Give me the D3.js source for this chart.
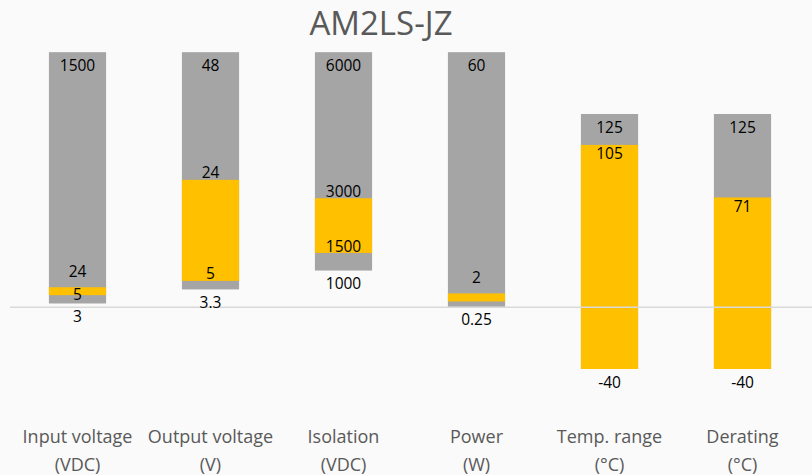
<!DOCTYPE html>
<html>
<head>
<meta charset="utf-8">
<script src="https://cdn.jsdelivr.net/npm/d3@7"></script>
<style>
	html, body { margin: 0; padding: 0; background: #fafafa; }
	svg { display: block; font-family: "Open Sans", "Noto Sans", sans-serif; }
</style>
</head>
<body>
<div id="chart"></div>
<script>
/**
 * AM2LS-JZ spec ranges, one bar per spec.
 */

// Category names and units (second line)
const categories = ["Input voltage", "Output voltage", "Isolation", "Power", "Temp. range", "Derating"];
const units = ["(VDC)", "(V)", "(VDC)", "(W)", "(°C)", "(°C)"];

// Printed values
const minLabels = ["3", "3.3", "1000", "0.25", "-40", "-40"];
const lowLabels = ["5", "5", "1500", null, null, null];
const highLabels = ["24", "24", "3000", "2", "105", "71"];
const maxLabels = ["1500", "48", "6000", "60", "125", "125"];

// Plotted stack positions (chart units)
const barBottom = [2.4, 11.5, 23.7, 0.2, -40, -40];
const yellowBottom = [7.8, 17.0, 35.1, 3.7, -40, -40];
const yellowTop = [12.9, 82.4, 70.5, 8.9, 105, 71];
const barTop = [165, 165, 165, 165, 125, 125];

(function (d3) {
	"use strict";

	const width = 812, height = 475;
	const grey = "#a5a5a5", gold = "#ffc000";

	const svg = d3.select("#chart").append("svg")
		.attr("width", width)
		.attr("height", height);

	const xScale = d3.scaleBand()
		.domain(categories)
		.range([11, 809])
		.paddingInner(0.57)
		.paddingOuter(0.285);

	const yScale = d3.scaleLinear()
		.domain([-40, 125])
		.range([369, 114]);

	const data = categories.map((c, i) => ({
		name: c, unit: units[i],
		min: minLabels[i], low: lowLabels[i], high: highLabels[i], max: maxLabels[i],
		b0: barBottom[i], y0: yellowBottom[i], y1: yellowTop[i], b1: barTop[i]
	}));

	// title
	svg.append("text")
		.attr("x", 381)
		.attr("y", 35)
		.attr("text-anchor", "middle")
		.attr("fill", "#595959")
		.attr("font-size", "33px")
		.text("AM2LS-JZ");

	const bars = svg.append("g").selectAll("g")
		.data(data)
		.enter()
		.append("g");

	// grey full range
	bars.append("rect")
		.attr("x", d => xScale(d.name))
		.attr("width", xScale.bandwidth())
		.attr("y", d => yScale(d.b1))
		.attr("height", d => yScale(d.b0) - yScale(d.b1))
		.attr("fill", grey);

	// yellow typical range
	bars.append("rect")
		.attr("x", d => xScale(d.name))
		.attr("width", xScale.bandwidth())
		.attr("y", d => yScale(d.y1))
		.attr("height", d => yScale(d.y0) - yScale(d.y1))
		.attr("fill", gold);

	// zero line
	svg.append("line")
		.attr("x1", 10)
		.attr("x2", width)
		.attr("y1", yScale(0))
		.attr("y2", yScale(0))
		.attr("stroke", "#d9d9d9")
		.attr("stroke-width", 1.5);

	// value labels
	const labels = [];
	data.forEach(d => {
		const cx = xScale(d.name) + xScale.bandwidth() / 2;
		const thin = yScale(d.y0) - yScale(d.y1) < 12;
		labels.push({ x: cx, y: yScale(d.b1) + 13, t: d.max });
		if (d.b0 < 0) {
			labels.push({ x: cx, y: yScale(d.y1) + 9, t: d.high });
		} else {
			labels.push({ x: cx, y: yScale(d.y1) - (thin ? 16 : 7), t: d.high });
		}
		if (d.low !== null) {
			labels.push({ x: cx, y: thin ? (yScale(d.y0) + yScale(d.y1)) / 2 + 3 : yScale(d.y0) - 7, t: d.low });
		}
		labels.push({ x: cx, y: yScale(d.b0) + 13, t: d.min });
	});

	svg.append("g").selectAll("text")
		.data(labels)
		.enter()
		.append("text")
		.attr("x", d => d.x)
		.attr("y", d => d.y)
		.attr("dy", "0.36em")
		.attr("text-anchor", "middle")
		.attr("font-size", "15.5px")
		.attr("fill", "#000")
		.text(d => d.t);

	// category axis labels
	const cats = svg.append("g").selectAll("text")
		.data(data)
		.enter()
		.append("text")
		.attr("text-anchor", "middle")
		.attr("fill", "#595959")
		.attr("font-size", "18px");
	cats.append("tspan")
		.attr("x", d => xScale(d.name) + xScale.bandwidth() / 2)
		.attr("y", 443)
		.text(d => d.name);
	cats.append("tspan")
		.attr("x", d => xScale(d.name) + xScale.bandwidth() / 2)
		.attr("y", 471)
		.text(d => d.unit);
})(d3);
</script>
</body>
</html>
